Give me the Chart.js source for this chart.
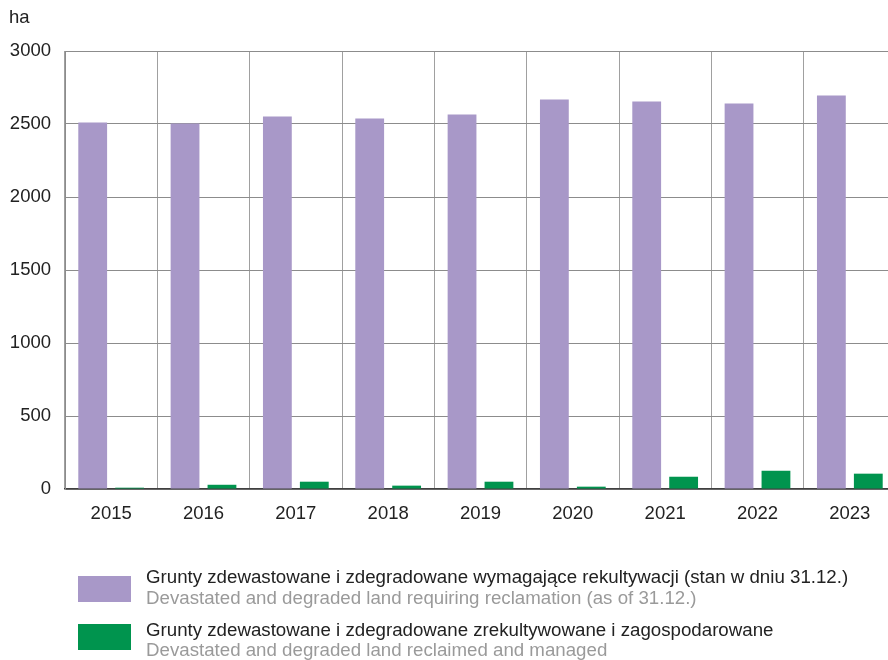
<!DOCTYPE html>
<html>
<head>
<meta charset="utf-8">
<script src="https://cdn.jsdelivr.net/npm/chart.js@4.4.1/dist/chart.umd.min.js"></script>
<style>
    html, body { margin: 0; padding: 0; background: #fff; overflow: hidden; }
    #wrap { width: 888px; height: 660px; overflow: hidden; }
</style>
</head>
<body>
<div id="wrap"><canvas id="landChart" width="900" height="660"></canvas></div>
<script>
const years = ['2015', '2016', '2017', '2018', '2019', '2020', '2021', '2022', '2023'];
const requiringReclamation = [2510, 2504, 2552, 2538, 2565, 2668, 2654, 2640, 2695];
const reclaimedManaged = [9, 29, 50, 23, 50, 16, 84, 125, 105];
const yTicks = [0, 500, 1000, 1500, 2000, 2500, 3000];

const seriesLabels = [
    ['Grunty zdewastowane i zdegradowane wymagające rekultywacji (stan w dniu 31.12.)',
     'Devastated and degraded land requiring reclamation (as of 31.12.)'],
    ['Grunty zdewastowane i zdegradowane zrekultywowane i zagospodarowane',
     'Devastated and degraded land reclaimed and managed']
];
const colors = ['#a898c8', '#00944e'];

const FONT = '"Liberation Sans", Arial, sans-serif';

// legend rows: swatch top, first text line, second text line
const legendRows = [
    { box: 576, line1: 578, line2: 599 },
    { box: 624, line1: 631, line2: 651 }
];

// unit label and two-line legend drawn straight onto the canvas
const extras = {
    id: 'extras',
    afterDraw(chart) {
        const c = chart.ctx;
        c.save();
        c.textBaseline = 'middle';
        c.textAlign = 'left';
        c.font = '18.5px ' + FONT;
        c.fillStyle = '#222';
        c.fillText('ha', 9, 18);

        c.font = '18.7px ' + FONT;
        seriesLabels.forEach((lines, i) => {
            const row = legendRows[i];
            c.fillStyle = colors[i];
            c.fillRect(78, row.box, 53, 26);
            c.fillStyle = '#222';
            c.fillText(lines[0], 146, row.line1);
            c.fillStyle = '#9a9a9a';
            c.fillText(lines[1], 146, row.line2);
        });
        c.restore();
    }
};

new Chart(document.getElementById('landChart'), {
    type: 'bar',
    data: {
        labels: years,
        datasets: [
            {
                label: seriesLabels[0][0],
                data: requiringReclamation,
                backgroundColor: colors[0]
            },
            {
                label: seriesLabels[1][0],
                data: reclaimedManaged,
                backgroundColor: colors[1]
            }
        ]
    },
    options: {
        responsive: false,
        animation: false,
        layout: { padding: { top: 51, right: 4, left: 0, bottom: 0 } },
        datasets: {
            bar: { categoryPercentage: 0.8, barPercentage: 0.78 }
        },
        plugins: {
            legend: { display: false },
            tooltip: { enabled: false }
        },
        scales: {
            x: {
                grid: { color: '#a0a0a0', drawTicks: false, offset: true },
                border: { color: '#404040', width: 1.5 },
                ticks: { color: '#222', font: { family: FONT, size: 18.5 }, padding: 14 },
                afterFit(scale) { scale.height = 171; }
            },
            y: {
                min: 0,
                max: 3000,
                afterBuildTicks(scale) { scale.ticks = yTicks.map(v => ({ value: v })); },
                grid: { color: '#8c8c8c', drawTicks: false },
                border: { color: '#8c8c8c' },
                ticks: {
                    color: '#222',
                    font: { family: FONT, size: 18.5 },
                    padding: 14,
                    callback: v => String(v)
                },
                afterFit(scale) { scale.width = 65; }
            }
        }
    },
    plugins: [extras]
});
</script>
</body>
</html>
